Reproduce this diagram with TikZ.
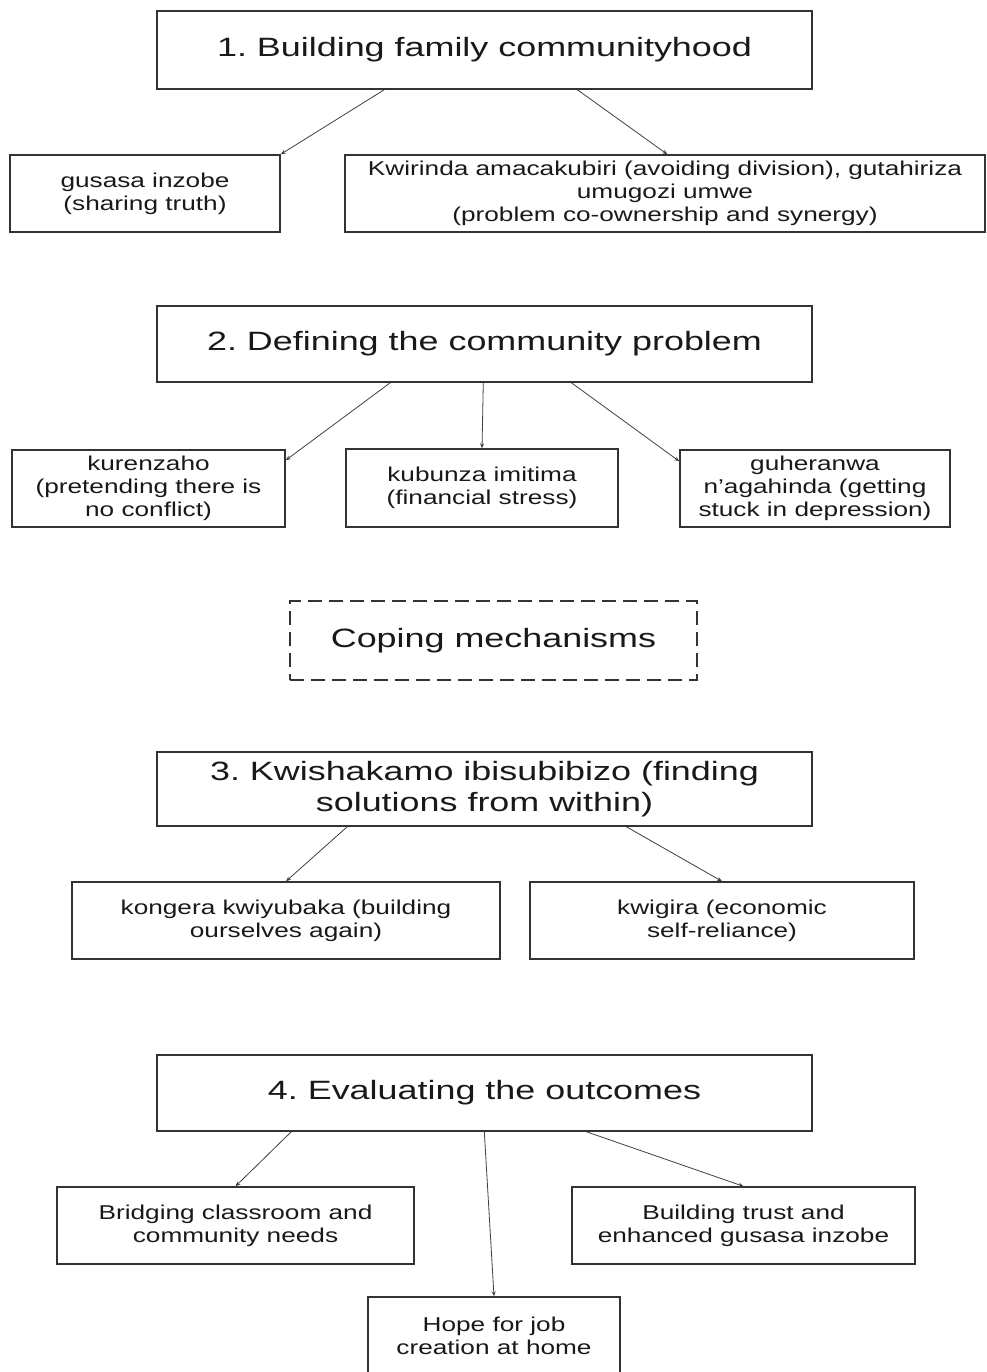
\documentclass[tikz,border=0pt]{standalone}
\usepackage{fontspec}
\setmainfont{Liberation Sans}[FakeStretch=1.31]
\newfontfamily\headfont{Liberation Sans}[FakeStretch=1.355]
\frenchspacing
\usetikzlibrary{arrows.meta,calc}
\begin{document}
\begin{tikzpicture}[x=1pt,y=-1pt,
  box/.style={draw=black!80, line width=1.4pt, inner sep=0pt, align=center, text=black!90, font=\fontsize{20}{23}\selectfont},
  bigbox/.style={box, font=\headfont\fontsize{26.5}{30.5}\selectfont},
  conn/.style={draw=black!75, line width=0.8pt, -{Stealth[length=5pt,width=4pt]}}]
\useasboundingbox (0,0) rectangle (986,1372);
\fill[white] (0,0) rectangle (986,1372);
% level 1
\node[bigbox, minimum width=655, minimum height=78] (b1) at (484.5,50) {1. Building family communityhood};
\node[box, minimum width=270, minimum height=77] (c1a) at (145,193.5) {gusasa inzobe\\(sharing truth)};
\node[box, minimum width=640, minimum height=77] (c1b) at (665,193.5) {Kwirinda amacakubiri (avoiding division), gutahiriza\\umugozi umwe\\(problem co-ownership and synergy)};
% level 2
\node[bigbox, minimum width=655, minimum height=76] (b2) at (484.5,344) {2. Defining the community problem};
\node[box, minimum width=273, minimum height=77] (c2a) at (148.5,488.5) {kurenzaho\\(pretending there is\\no conflict)};
\node[box, minimum width=272, minimum height=78] (c2b) at (482,488) {kubunza imitima\\(financial stress)};
\node[box, minimum width=270, minimum height=77] (c2c) at (815,488.5) {guheranwa\\n’agahinda (getting\\stuck in depression)};
% coping
\node[bigbox, dash pattern=on 14pt off 7pt, minimum width=407, minimum height=79] (cope) at (493.5,640.5) {Coping mechanisms};
% level 3
\node[bigbox, minimum width=655, minimum height=74] (b3) at (484.5,789) {3. Kwishakamo ibisubibizo (finding\\solutions from within)};
\node[box, minimum width=428, minimum height=77] (c3a) at (286,920.5) {kongera kwiyubaka (building\\ourselves again)};
\node[box, minimum width=384, minimum height=77] (c3b) at (722,920.5) {kwigira (economic\\self-reliance)};
% level 4
\node[bigbox, minimum width=655, minimum height=76] (b4) at (484.5,1093) {4. Evaluating the outcomes};
\node[box, minimum width=357, minimum height=77] (c4a) at (235.5,1225.5) {Bridging classroom and\\community needs};
\node[box, minimum width=343, minimum height=77] (c4b) at (743.5,1225.5) {Building trust and\\enhanced gusasa inzobe};
\node[box, minimum width=252, minimum height=77] (c4c) at (494,1335.5) {Hope for job\\creation at home};
% connectors
\draw[conn] ($(b1.south west)+(228,0)$) -- (c1a.north east);
\draw[conn] ($(b1.south west)+(421,0)$) -- ($(c1b.north west)+(323,0)$);
\draw[conn] ($(b2.south west)+(234,0)$) -- ($(c2a.north east)+(0,11)$);
\draw[conn] ($(b2.south west)+(327,0)$) -- (c2b.north);
\draw[conn] ($(b2.south west)+(415,0)$) -- ($(c2c.north west)+(0,12)$);
\draw[conn] ($(b3.south west)+(191,0)$) -- (c3a.north);
\draw[conn] ($(b3.south west)+(470,0)$) -- (c3b.north);
\draw[conn] ($(b4.south west)+(135,0)$) -- (c4a.north);
\draw[conn] ($(b4.south west)+(328,0)$) -- (c4c.north);
\draw[conn] ($(b4.south west)+(430,0)$) -- (c4b.north);
\end{tikzpicture}
\end{document}
